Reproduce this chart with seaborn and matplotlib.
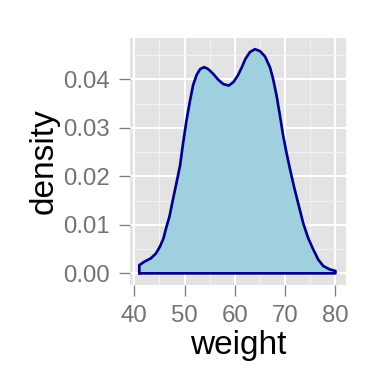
import numpy as np
import pandas as pd
import matplotlib
matplotlib.use("Agg")
import matplotlib.pyplot as plt
import seaborn as sns

# density curve
weight = [41.0, 42.0, 43.3, 44.3, 45.1, 45.8, 46.4, 47.0, 47.6, 48.3, 49.1, 49.7,
          50.4, 51.1, 51.7, 52.4, 53.1, 53.9, 54.7, 55.7, 56.7, 57.7, 58.8, 59.7,
          60.6, 61.4, 62.1, 63.0, 64.0, 65.0, 66.0, 67.0, 67.6, 68.3, 69.0, 69.6,
          70.3, 71.0, 71.8, 72.6, 73.6, 74.6, 75.6, 76.6, 77.6, 78.9, 80.0]
density = [0.0017, 0.0024, 0.0031, 0.0041, 0.0055, 0.0072, 0.0096, 0.0117, 0.0148,
           0.0182, 0.0222, 0.0268, 0.0316, 0.0357, 0.0388, 0.0409, 0.0421, 0.0425,
           0.0421, 0.0411, 0.0399, 0.0390, 0.0387, 0.0394, 0.0408, 0.0425, 0.0442,
           0.0456, 0.0462, 0.0458, 0.0447, 0.0424, 0.0401, 0.0366, 0.0323, 0.0284,
           0.0247, 0.0213, 0.0177, 0.0144, 0.0103, 0.0072, 0.0049, 0.0028, 0.0015,
           0.0008, 0.0005]

x_ticks = [40, 50, 60, 70, 80]
y_ticks = [0.00, 0.01, 0.02, 0.03, 0.04]
y_labels = ["0.00", "0.01", "0.02", "0.03", "0.04"]

sns.set_theme(style="darkgrid")
plt.rcParams["font.family"] = ["Liberation Sans", "DejaVu Sans"]

fig = plt.figure(figsize=(4, 4), dpi=96)
ax = fig.add_axes([130 / 384, 1 - 285 / 384, 216 / 384, 247 / 384])
ax.set_facecolor("#E3E3E3")

# closed polygon like ggplot geom_density
px = [weight[0]] + weight + [weight[-1], weight[0]]
py = [0.0] + density + [0.0, 0.0]
df = pd.DataFrame({"weight": px, "density": py})
ax.fill(df["weight"], df["density"], color="#A0CFE0", zorder=3, lw=0)
sns.lineplot(data=df, x="weight", y="density", sort=False, estimator=None,
             color="#00008B", lw=2.0, ax=ax, zorder=4)
for ln in ax.lines:
    ln.set_solid_joinstyle("round")

ax.set_xlim(39.15, 82.1)
ax.set_ylim(-0.0024, 0.0485)
ax.set_xticks(x_ticks)
ax.set_xticklabels([str(v) for v in x_ticks])
ax.set_yticks(y_ticks)
ax.set_yticklabels(y_labels)
ax.set_xticks([45, 55, 65, 75], minor=True)
ax.set_yticks([0.005, 0.015, 0.025, 0.035, 0.045], minor=True)

ax.grid(which="major", color="white", lw=1.5, zorder=1)
ax.grid(which="minor", color="#F2F2F2", lw=0.75, zorder=1)
ax.set_axisbelow(True)
for s in ax.spines.values():
    s.set_visible(False)

ax.tick_params(axis="both", which="major", length=8, width=1.0, color="#7F7F7F",
               labelcolor="#737373", labelsize=18, pad=7, direction="out")
ax.tick_params(axis="both", which="minor", length=0)
ax.tick_params(axis="x", bottom=True)
ax.tick_params(axis="y", left=True)

ax.set_xlabel("weight", fontsize=25, color="black", labelpad=2)
ax.set_ylabel("density", fontsize=25, color="black", labelpad=3)

fig.savefig("out.png", dpi=96)
